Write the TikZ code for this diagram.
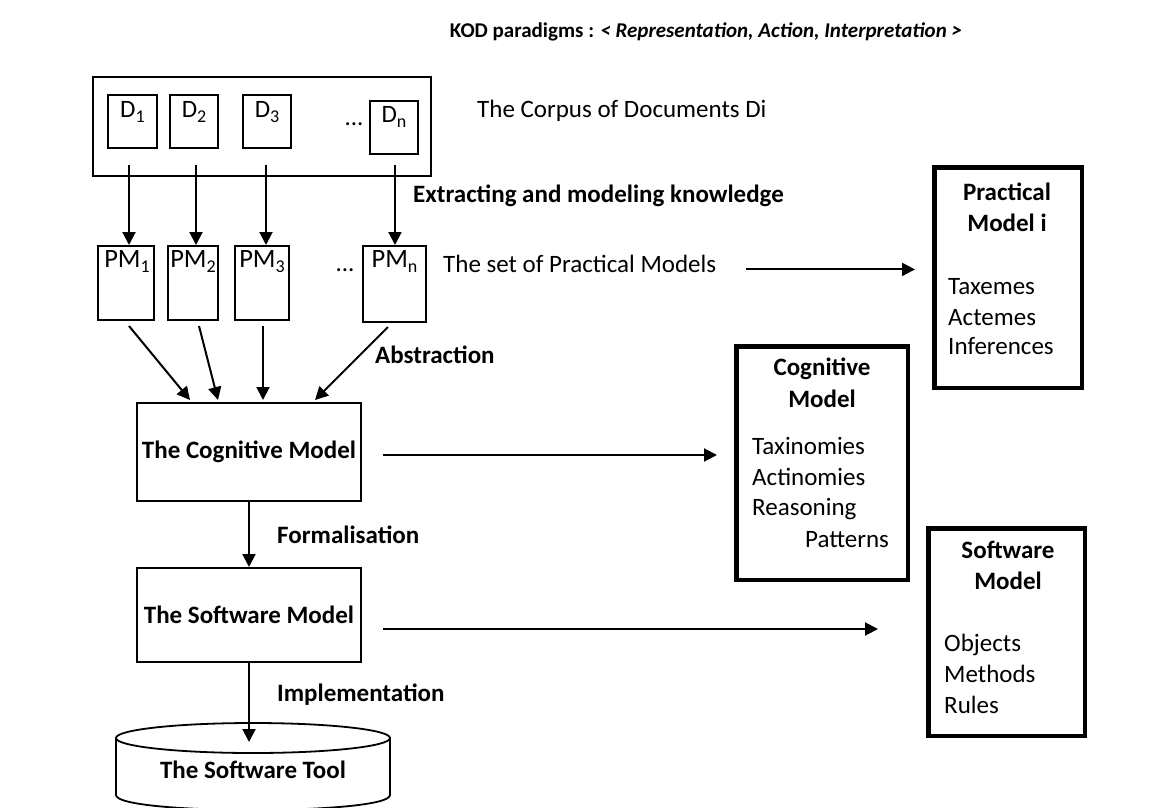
\documentclass[tikz,border=0pt]{standalone}
\usepackage{fontspec}
\setmainfont{Carlito}
\usetikzlibrary{arrows.meta,calc}
\newcommand{\sbs}[1]{\raisebox{-0.22em}{\fontsize{18}{18}\selectfont #1}}
\begin{document}
\begin{tikzpicture}[x=1pt,y=-1pt,
  thinbox/.style={draw,line width=1.8pt,inner sep=0pt},
  thickbox/.style={draw,line width=4.5pt,inner sep=0pt},
  arr/.style={line width=2pt,-{Triangle[length=13pt,width=13pt]}},
  txt/.style={inner sep=0pt,font=\fontsize{25}{30}\selectfont},
  btxt/.style={inner sep=0pt,font=\fontsize{25}{30}\selectfont\bfseries},
  lab/.style={inner sep=0pt,anchor=base,font=\fontsize{25}{30}\selectfont},
  plab/.style={inner sep=0pt,anchor=base,font=\fontsize{26.5}{30}\selectfont}]
\useasboundingbox (0,0) rectangle (1164,807);
\clip (0,0) rectangle (1164,807);
\fill[white] (0,0) rectangle (1164,807);

% title
\node[inner sep=0pt,anchor=base,font=\fontsize{21}{25}\selectfont\bfseries] (title) at (706,37)
  {KOD paradigms : \textit{< Representation, Action, Interpretation >}};

% corpus
\node[thinbox,minimum width=338.2,minimum height=99.2] (corpus) at (262,126.5) {};
\node[thinbox,minimum width=49.2,minimum height=53.2] (D1) at (132.5,121.5) {};
\node[thinbox,minimum width=48.2,minimum height=53.2] (D2) at (194,121.5) {};
\node[thinbox,minimum width=48.2,minimum height=53.2] (D3) at (267,121.5) {};
\node[thinbox,minimum width=48.2,minimum height=53.2] (Dn) at (394,127.5) {};
\node[lab] (lD1) at ($(D1.north)+(0,23)$) {D\sbs{1}};
\node[lab] (lD2) at ($(D2.north)+(0,23)$) {D\sbs{2}};
\node[lab] (lD3) at ($(D3.north)+(0,23)$) {D\sbs{3}};
\node[lab] (lDn) at ($(Dn.north)+(0,22)$) {D\sbs{n}};
\node[lab] (dotsD) at (354,125) {...};
\node[txt,anchor=base west] (corpustxt) at (477,117) {The Corpus of Documents Di};

% practical models
\node[thinbox,minimum width=56.2,minimum height=74.2] (PM1) at (126,283) {};
\node[thinbox,minimum width=50.2,minimum height=74.2] (PM2) at (193,283) {};
\node[thinbox,minimum width=54.2,minimum height=74.2] (PM3) at (262,283) {};
\node[thinbox,minimum width=63.2,minimum height=76.2] (PMn) at (394.5,284) {};
\node[plab] (lPM1) at ($(PM1.north)+(1,22)$) {PM\sbs{1}};
\node[plab] (lPM2) at ($(PM2.north)+(0,22)$) {PM\sbs{2}};
\node[plab] (lPM3) at ($(PM3.north)+(0,22)$) {PM\sbs{3}};
\node[plab] (lPMn) at ($(PMn.north)+(0,22)$) {PM\sbs{n}};
\node[lab] (dotsPM) at (345,271) {...};
\node[btxt,anchor=base west] (extract) at (413,202) {Extracting and modeling knowledge};
\node[txt,anchor=base west] (setpm) at (443,272) {The set of Practical Models};
\node[btxt,anchor=base west] (abstr) at (375,363) {Abstraction};

% D -> PM arrows
\coordinate (a1) at ($(D1.south)+(-3.5,0)$);
\coordinate (a2) at ($(D2.south)+(2,0)$);
\coordinate (a3) at ($(D3.south)+(-1,0)$);
\coordinate (an) at ($(Dn.south)+(1,0)$);
\draw[arr] ($(a1 |- corpus.south)+(0,-12)$) -- (a1 |- PM1.north);
\draw[arr] ($(a2 |- corpus.south)+(0,-12)$) -- (a2 |- PM2.north);
\draw[arr] ($(a3 |- corpus.south)+(0,-12)$) -- (a3 |- PM3.north);
\draw[arr] ($(an |- corpus.south)+(0,-12)$) -- (an |- PMn.north);

% cognitive and software models
\node[thinbox,btxt,minimum width=224.2,minimum height=98.2] (CM) at (249,452) {The Cognitive Model};
\node[thinbox,btxt,minimum width=224.2,minimum height=94.2] (SM) at (249,615) {The Software Model};

\draw[arr] ($(PM1.south)+(3,5)$) -- ($(CM.north)+(-59,-2)$);
\draw[arr] ($(PM2.south)+(6,5)$) -- ($(CM.north)+(-31,-2)$);
\draw[arr] ($(PM3.south)+(1,5)$) -- ($(CM.north)+(14,-2)$);
\draw[arr] ($(PMn.south)+(-6.5,4)$) -- ($(CM.north)+(66,-2)$);

\draw[arr] (CM.south) -- (SM.north);
\node[btxt,anchor=base west] (formal) at (277,543) {Formalisation};

% software tool (cylinder)
\draw[line width=1.8pt,fill=white] (116,738) -- (116,795) .. controls (116,815) and (390,815) .. (390,795) -- (390,738);
\draw[line width=1.8pt] (253,738) ellipse [x radius=137, y radius=15];
\node[btxt,anchor=base] (tool) at (253,778) {The Software Tool};
\coordinate (toolTop) at (249,742);
\draw[arr] (SM.south) -- (toolTop);
\node[btxt,anchor=base west] (impl) at (277,701) {Implementation};

% right boxes
\node[thickbox,minimum width=147.5,minimum height=220.5] (pmbox) at (1008,277.5) {};
\node[btxt,anchor=base] (pmt1) at (1007,200) {Practical};
\node[btxt,anchor=base] (pmt2) at (1007,231) {Model i};
\node[txt,anchor=base west] (pmi1) at (948,294) {Taxemes};
\node[txt,anchor=base west] (pmi2) at (948,325) {Actemes};
\node[txt,anchor=base west] (pmi3) at (948,354) {Inferences};

\node[thickbox,minimum width=171.5,minimum height=233.5] (cogbox) at (822,463) {};
\node[btxt,anchor=base] (cgt1) at (822,375) {Cognitive};
\node[btxt,anchor=base] (cgt2) at (822,407) {Model};
\node[txt,anchor=base west] (cgi1) at (752,454) {Taxinomies};
\node[txt,anchor=base west] (cgi2) at (752,485) {Actinomies};
\node[txt,anchor=base west] (cgi3) at (752,515) {Reasoning};
\node[txt,anchor=base west] (cgi4) at (805,547) {Patterns};

\node[thickbox,minimum width=156.5,minimum height=207.5] (swbox) at (1006.5,632) {};
\node[btxt,anchor=base] (swt1) at (1008,558) {Software};
\node[btxt,anchor=base] (swt2) at (1008,589) {Model};
\node[txt,anchor=base west] (swi1) at (944,651) {Objects};
\node[txt,anchor=base west] (swi2) at (944,682) {Methods};
\node[txt,anchor=base west] (swi3) at (944,713) {Rules};

% horizontal arrows
\coordinate (hp) at ($(setpm.east)+(30,6)$);
\coordinate (hc) at ($(CM.east)+(21,3)$);
\coordinate (hs) at ($(SM.east)+(21,14)$);
\draw[arr] (hp) -- ($(hp -| pmbox.west)+(-17,0)$);
\draw[arr] (hc) -- ($(hc -| cogbox.west)+(-17,0)$);
\draw[arr] (hs) -- ($(hs -| swbox.west)+(-48,0)$);
\end{tikzpicture}
\end{document}
